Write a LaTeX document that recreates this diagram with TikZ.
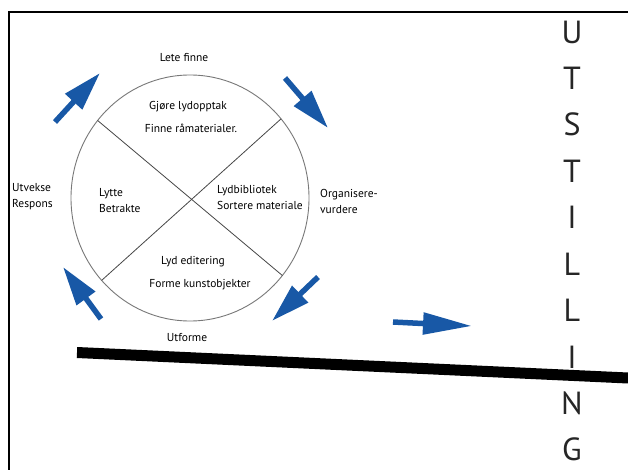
\documentclass[tikz,border=0pt]{standalone}
\usepackage{fontspec}
\setmainfont{PT Sans}
\usepackage{tikz}
\usepackage{xcolor}
\usetikzlibrary{arrows.meta,positioning,shapes.geometric}
\definecolor{CycleBlue}{RGB}{24,88,166}
\definecolor{RimGray}{RGB}{120,120,120}
\definecolor{CrossGray}{RGB}{70,70,70}

\begin{document}
\begin{tikzpicture}[x=1pt, y=-1pt,
  lbl/.style={font=\fontsize{11.5}{16}\selectfont, inner sep=1pt, align=left},
  bigletter/.style={font=\fontsize{32}{32}\selectfont, text=black!85, inner sep=0pt},
  turn/.style={draw=CycleBlue, line width=5.5pt, -{Triangle[length=39pt, width=22pt]}}]
\useasboundingbox (0,0) rectangle (628,470);
\fill[white] (0,0) rectangle (628,470);
% frame
\draw[line width=2.5pt] (9,470) -- (9,12) -- (628,12);

% wheel
\node[draw=RimGray, line width=0.9pt, ellipse, outer sep=0pt, minimum width=238pt, minimum height=246pt] (wheel) at (190,198) {};
\draw[CrossGray, line width=0.8pt] (wheel.140) -- (wheel.-40);
\draw[CrossGray, line width=0.8pt] (wheel.41) -- (wheel.223);

\node[lbl] (lete) at (184,58) {Lete finne};
\node[lbl] (gjore) at (188,107) {Gjøre lydopptak};
\node[lbl] (finne) at (191,128) {Finne råmaterialer.};
\node[lbl, anchor=west] (lytte) at (98,201) {Lytte\\Betrakte};
\node[lbl, anchor=west] (lydbib) at (216,197) {Lydbibliotek\\Sortere materiale};
\node[lbl, anchor=west] (org) at (319,201) {Organisere-\\vurdere};
\node[lbl, anchor=west] (utv) at (11,197) {Utvekse\\Respons};
\node[lbl] (lyded) at (193,262) {Lyd editering};
\node[lbl] (forme) at (200,285) {Forme kunstobjekter};
\node[lbl] (utforme) at (187,338) {Utforme};

% arrows round the wheel
\coordinate (t1) at (55,122);  \coordinate (h1) at (100,73);
\coordinate (t2) at (285,78);  \coordinate (h2) at (328,128);
\coordinate (t3) at (318,277); \coordinate (h3) at (272,321);
\coordinate (t4) at (101,319); \coordinate (h4) at (63,267);
\coordinate (t5) at (393,322); \coordinate (h5) at (472,326);
\draw[turn] (t1) -- (h1);
\draw[turn] (t2) -- (h2);
\draw[turn] (t3) -- (h3);
\draw[turn] (t4) -- (h4);
\draw[turn, -{Triangle[length=49pt, width=21pt]}] (t5) -- (h5);

% floor
\coordinate (f1) at (77,352.5);
\coordinate (f2) at (628,378);
\draw[line width=11pt] (f1) -- (f2);

% UTSTILLING
\foreach \ch [count=\i from 0] in {U,T,S,T,I,L,L,I,N,G}
  \node[bigletter] (u\i) at (572,32+46.4*\i) {\ch};
\end{tikzpicture}
\end{document}
